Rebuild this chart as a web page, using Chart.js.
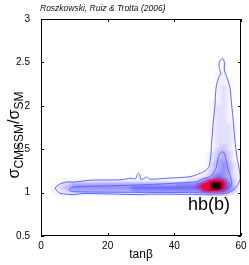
<!DOCTYPE html>
<html>
<head>
<meta charset="utf-8">
<script src="https://cdn.jsdelivr.net/npm/chart.js@4.4.1/dist/chart.umd.min.js"></script>
<style>
  html, body { margin: 0; padding: 0; background: #fff; }
  canvas { display: block; }
</style>
</head>
<body>
<canvas id="chart" width="249" height="265"></canvas>
<script>
// axes
const xTicks = [0, 20, 40, 60];
const yTicks = [0.5, 1, 1.5, 2, 2.5, 3];

// posterior density grid: rows from top (sigma 2.56) down, columns from tanb 3 in steps of 1.5
const gridTanbStart = 3;
const gridTanbStep = 1.5;
const gridSigmaTop = 2.56;
const gridSigmaStep = 0.04;
const densityRows = [
  '00000000000000000000000000000000001000',
  '00000000000000000000000000000000001000',
  '00000000000000000000000000000000001000',
  '00000000000000000000000000000000001000',
  '00000000000000000000000000000000011000',
  '00000000000000000000000000000000011000',
  '00000000000000000000000000000000011100',
  '00000000000000000000000000000000011100',
  '00000000000000000000000000000000012100',
  '00000000000000000000000000000000012100',
  '00000000000000000000000000000000012100',
  '00000000000000000000000000000000012100',
  '00000000000000000000000000000000112100',
  '00000000000000000000000000000000112100',
  '00000000000000000000000000000000122100',
  '00000000000000000000000000000000122100',
  '00000000000000000000000000000000122100',
  '00000000000000000000000000000000122100',
  '00000000000000000000000000000000122110',
  '00000000000000000000000000000000122210',
  '00000000000000000000000000000000122210',
  '00000000000000000000000000000000122210',
  '00000000000000000000000000000000122210',
  '00000000000000000000000000000000122210',
  '00000000000000000000000000000000122210',
  '00000000000000000000000000000000123210',
  '00000000000000000000000000000000133210',
  '00000000000000000000000000000001234310',
  '00000000000000000000000000000001234310',
  '00000000000000000000000000000001244310',
  '00000000000000000000000000000001345420',
  '00000000000000000000000000000001345421',
  '00000000000000000000000000000002345421',
  '00000000000000000000000000000012455421',
  '00000000000000000100000000011123565421',
  '00111111111111111111111111122357887531',
  '01234444444444444444444445555688998631',
  '12345555555555556666666666666788998641',
  '11234444444444445555555555555578887531',
  '01111111111111111111111111111223333210'
];
const levelColors = ['#ffffff', '#f4f1ff', '#e4deff', '#cfc6ff', '#b3acff',
                     '#9390ff', '#6e6cff', '#c02890', '#f0003a', '#120000'];

// 95% and 68% contours
const outerTanb = [4.2, 5.5, 7.7, 9.9, 14.7, 20.1, 24, 27, 28.3, 28.8, 29.2, 29.6, 30, 30.9, 31.7, 32.3, 33,
  37.7, 44.7, 47.7, 49.2, 50.4, 51.0, 51.2, 51.7, 52.2, 52.5, 53.2, 53.9, 53.5, 53.5, 54.4, 55.0, 55.0,
  55.5, 56.2, 56.7, 57.2, 57.7, 58.2, 58.7, 59.5, 59.8, 59.4, 58.7, 57.6, 55.7, 52.7, 44.7, 32.7, 30,
  12.6, 9.9, 6, 4.8, 4.2];
const outerSigma = [1.053, 1.095, 1.122, 1.12, 1.143, 1.145, 1.148, 1.165, 1.157, 1.2, 1.225, 1.205, 1.148,
  1.165, 1.18, 1.162, 1.153, 1.165, 1.183, 1.222, 1.249, 1.30, 1.45, 1.586, 1.817, 2.009, 2.202, 2.317,
  2.374, 2.43, 2.508, 2.545, 2.508, 2.412, 2.355, 2.278, 2.202, 2.009, 1.817, 1.586, 1.433, 1.26, 1.168,
  1.122, 1.068, 1.03, 0.992, 0.984, 0.98, 0.982, 0.976, 0.99, 0.976, 0.99, 1.018, 1.053];
const innerTanb = [8.5, 10, 17.7, 30, 39.7, 46.7, 48.7, 50.7, 51.3, 52.5, 53.2, 53.7, 54.2, 54.8, 55.2,
  55.7, 56.2, 56.7, 57.2, 56.2, 54.7, 52.7, 44.7, 29.7, 10, 8.7, 8.5];
const innerSigma = [1.038, 1.065, 1.076, 1.088, 1.107, 1.126, 1.16, 1.183, 1.203, 1.28, 1.414, 1.456,
  1.471, 1.462, 1.433, 1.338, 1.26, 1.203, 1.107, 1.038, 1.03, 1.01, 1.003, 1.003, 1.01, 1.02, 1.038];

// texts
const creditText = 'Roszkowski, Ruiz & Trotta (2006)';
const regionLabel = 'hb(b)';
const regionLabelAt = [44.1, 0.8];
const yTitleParts = [['σ', 16, 0], ['CMSSM', 12, 3.5], ['/σ', 16, 0], ['SM', 12, 3.5]];

const FONT = "'Liberation Sans', Arial, sans-serif";

const densityPlugin = {
  id: 'density',
  beforeDatasetsDraw(chart) {
    const { ctx, chartArea, scales: { x, y } } = chart;
    const nx = densityRows[0].length, ny = densityRows.length;
    const off = document.createElement('canvas');
    off.width = nx;
    off.height = ny;
    const octx = off.getContext('2d');
    densityRows.forEach((row, j) => {
      for (let i = 0; i < nx; i++) {
        octx.fillStyle = levelColors[+row[i]];
        octx.fillRect(i, j, 1, 1);
      }
    });
    const x0 = x.getPixelForValue(gridTanbStart);
    const x1 = x.getPixelForValue(gridTanbStart + nx * gridTanbStep);
    const y0 = y.getPixelForValue(gridSigmaTop);
    const y1 = y.getPixelForValue(gridSigmaTop - ny * gridSigmaStep);
    ctx.save();
    ctx.beginPath();
    ctx.rect(chartArea.left, chartArea.top, chartArea.right - chartArea.left, chartArea.bottom - chartArea.top);
    ctx.clip();
    ctx.imageSmoothingEnabled = true;
    ctx.drawImage(off, x0, y0, x1 - x0, y1 - y0);
    ctx.restore();
  }
};

const framePlugin = {
  id: 'frame',
  afterDraw(chart) {
    const { ctx, chartArea: a, scales: { x, y } } = chart;
    ctx.save();
    ctx.strokeStyle = '#000';
    ctx.lineWidth = 1;
    ctx.strokeRect(Math.round(a.left) + 0.5, Math.round(a.top) + 0.5,
      Math.round(a.right - a.left) - 1, Math.round(a.bottom - a.top) - 1);
    ctx.beginPath();
    xTicks.forEach(v => {
      const px = Math.round(x.getPixelForValue(v)) + 0.5;
      ctx.moveTo(px, a.bottom); ctx.lineTo(px, a.bottom - 3);
      ctx.moveTo(px, a.top); ctx.lineTo(px, a.top + 3);
    });
    yTicks.forEach(v => {
      const py = Math.round(y.getPixelForValue(v)) + 0.5;
      ctx.moveTo(a.left, py); ctx.lineTo(a.left + 3, py);
      ctx.moveTo(a.right, py); ctx.lineTo(a.right - 3, py);
    });
    ctx.stroke();

    // credit line
    ctx.fillStyle = '#111';
    ctx.font = 'italic 8.5px ' + FONT;
    ctx.textBaseline = 'alphabetic';
    ctx.textAlign = 'left';
    ctx.fillText(creditText, a.left - 1, 11);

    // region label
    ctx.fillStyle = '#000';
    ctx.font = '18px ' + FONT;
    ctx.fillText(regionLabel, x.getPixelForValue(regionLabelAt[0]), y.getPixelForValue(regionLabelAt[1]));

    // y title with subscripts
    ctx.translate(19, 135);
    ctx.rotate(-Math.PI / 2);
    let w = 0;
    yTitleParts.forEach(([t, s]) => { ctx.font = s + 'px ' + FONT; w += ctx.measureText(t).width; });
    let cx = -w / 2;
    yTitleParts.forEach(([t, s, dy]) => {
      ctx.font = s + 'px ' + FONT;
      ctx.fillText(t, cx, dy);
      cx += ctx.measureText(t).width;
    });
    ctx.restore();
  }
};

const contourStyle = {
  showLine: true, fill: false, borderColor: '#5a6bff', borderWidth: 1,
  pointRadius: 0, tension: 0.25
};

new Chart(document.getElementById('chart'), {
  type: 'scatter',
  data: {
    datasets: [
      { ...contourStyle, data: outerTanb.map((t, i) => ({ x: t, y: outerSigma[i] })) },
      { ...contourStyle, data: innerTanb.map((t, i) => ({ x: t, y: innerSigma[i] })) }
    ]
  },
  options: {
    responsive: false,
    animation: false,
    devicePixelRatio: 1,
    layout: { padding: { top: 19, right: 8, left: 0, bottom: 0 } },
    plugins: { legend: { display: false }, tooltip: { enabled: false } },
    scales: {
      x: {
        type: 'linear', min: 0, max: 60,
        afterBuildTicks: s => { s.ticks = xTicks.map(v => ({ value: v })); },
        afterFit: s => { s.height = 29; },
        grid: { display: false },
        border: { display: false },
        ticks: { color: '#000', font: { family: FONT, size: 10 }, padding: -4, maxRotation: 0 },
        title: { display: true, text: 'tanβ', color: '#000', font: { family: FONT, size: 12 }, padding: { top: 0, bottom: 3 } }
      },
      y: {
        type: 'linear', min: 0.5, max: 3,
        afterBuildTicks: s => { s.ticks = yTicks.map(v => ({ value: v })); },
        afterFit: s => { s.width = 41; },
        grid: { display: false },
        border: { display: false },
        ticks: { color: '#000', font: { family: FONT, size: 10 }, padding: 3, callback: v => String(v) }
      }
    }
  },
  plugins: [densityPlugin, framePlugin]
});
</script>
</body>
</html>
